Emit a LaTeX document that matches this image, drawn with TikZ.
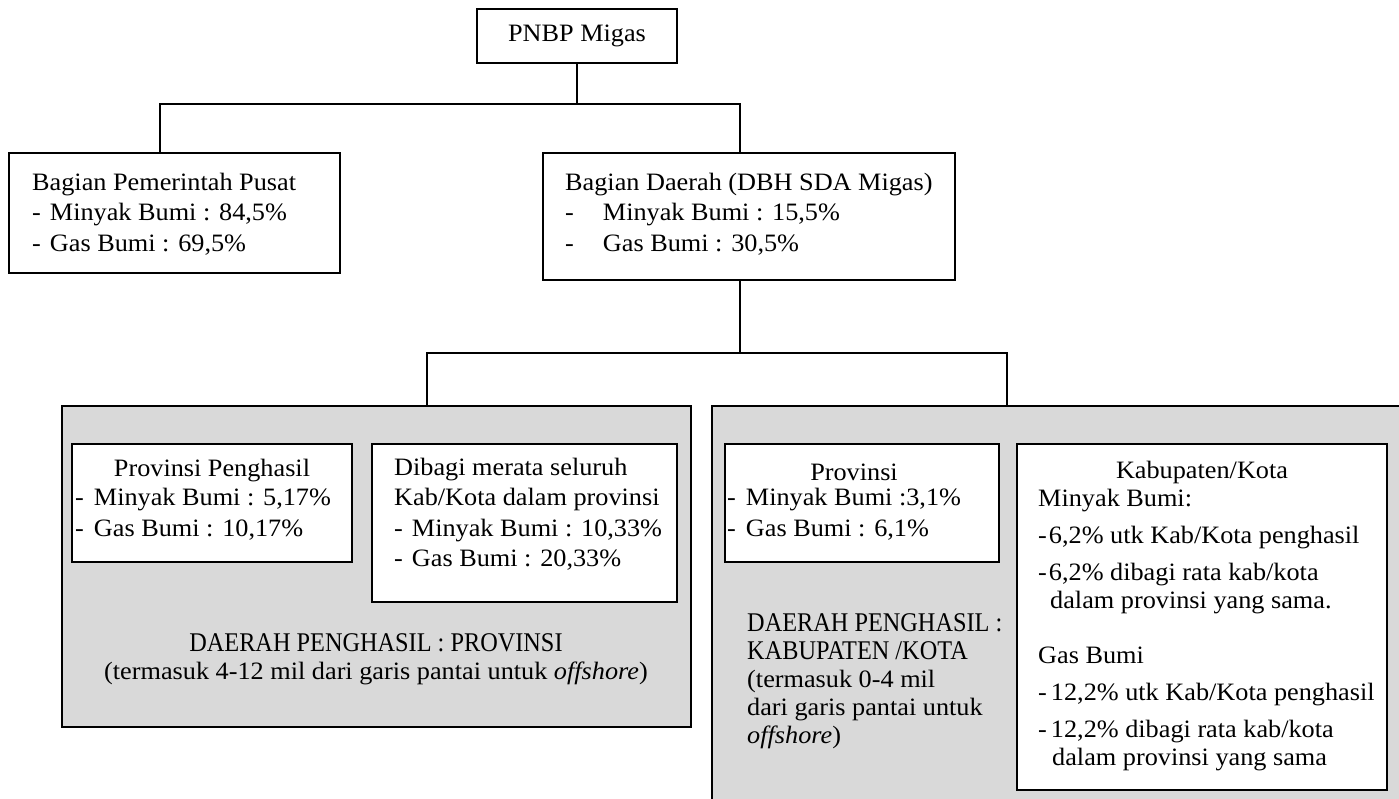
\documentclass[tikz,border=0pt]{standalone}
\usepackage{fontspec}
\setmainfont{Liberation Serif}[FakeStretch=1.05]
\newfontfamily\capsfont{Liberation Serif}[FakeStretch=0.9]
\usepackage{xcolor}
\usepackage{tikz}
\usetikzlibrary{positioning, calc}

\definecolor{regiongray}{RGB}{217,217,217}
\newcommand{\capline}[1]{{\capsfont\fontsize{27}{28}\selectfont #1}}

\tikzset{
  box/.style={rectangle, draw, line width=1.8pt, fill=white, inner sep=0pt, font=\fontsize{25}{30.5}\selectfont},
  region/.style={rectangle, draw, line width=1.8pt, fill=regiongray, inner sep=0pt},
  txt/.style={inner sep=0pt, align=left, font=\fontsize{25}{30.5}\selectfont},
  link/.style={line width=1.8pt},
}

\begin{document}
\begin{tikzpicture}[x=1pt, y=-1pt]
    \path[use as bounding box] (0,0) rectangle (1399,798);
    \clip (0,0) rectangle (1399,798);

    % top level
    \node [box, minimum width=200pt, minimum height=54pt] (pnbp) at (577,36) {PNBP Migas};
    \node [box, minimum width=331pt, minimum height=120pt] (pusat) at (174.5,213) {};
    \node [box, minimum width=412pt, minimum height=127pt] (daerah) at (749,216.5) {};
    \node [txt, anchor=west] (pusattxt) at (32,214) {Bagian Pemerintah Pusat\\-\hspace*{9pt}Minyak Bumi : 84,5\%\\-\hspace*{9pt}Gas Bumi : 69,5\%};
    \node [txt, anchor=west] (daerahtxt) at (565,214) {Bagian Daerah (DBH SDA Migas)\\-\hspace*{29pt}Minyak Bumi : 15,5\%\\-\hspace*{29pt}Gas Bumi : 30,5\%};

    % grey regions
    \node [region, minimum width=629pt, minimum height=321pt] (provreg) at (376.5,566.5) {};
    \node [region, minimum width=703pt, minimum height=409pt] (kabreg) at (1063.5,610.5) {};

    % provinsi penghasil
    \node [box, minimum width=280pt, minimum height=118pt] (prov) at (212,503) {};
    \node [box, minimum width=305pt, minimum height=158pt] (dibagi) at (524.5,523) {};
    \node [txt] (provtitle) at (212,471) {Provinsi Penghasil};
    \node [txt, anchor=west] (provlist) at (75,514) {-\hspace*{10pt}Minyak Bumi : 5,17\%\\-\hspace*{10pt}Gas Bumi : 10,17\%};
    \node [txt, anchor=west] (dibagitxt) at (394,514) {Dibagi merata seluruh\\Kab/Kota dalam provinsi\\-\hspace*{9pt}Minyak Bumi : 10,33\%\\-\hspace*{9pt}Gas Bumi : 20,33\%};
    \node [txt, align=center, font=\fontsize{25}{28}\selectfont] (provregtxt) at (376,659.5) {\capline{DAERAH PENGHASIL : PROVINSI}\\(termasuk 4-12 mil dari garis pantai untuk \textit{offshore})};

    % kabupaten/kota penghasil
    \node [box, minimum width=274pt, minimum height=118pt] (provkab) at (862,503) {};
    \node [box, minimum width=370pt, minimum height=346pt] (kab) at (1202,617) {};
    \node [txt] (provkabtitle) at (854,472) {Provinsi};
    \node [txt, anchor=west] (provkablist) at (727,514) {-\hspace*{10pt}Minyak Bumi :3,1\%\\-\hspace*{10pt}Gas Bumi : 6,1\%};
    \node [txt] (kabtitle) at (1202,472) {Kabupaten/Kota};
    \node [txt, anchor=north west, font=\fontsize{25}{28}\selectfont] (kablist) at (1038,489) {Minyak Bumi:\\[9pt]
        -\hspace*{2pt}6,2\% utk Kab/Kota penghasil\\[9pt]
        -\hspace*{2pt}6,2\% dibagi rata kab/kota\\
        \hspace*{12pt}dalam provinsi yang sama.\\[27pt]
        Gas Bumi\\[9pt]
        -\hspace*{4pt}12,2\% utk Kab/Kota penghasil\\[9pt]
        -\hspace*{4pt}12,2\% dibagi rata kab/kota\\
        \hspace*{14pt}dalam provinsi yang sama};
    \node [txt, anchor=west, font=\fontsize{25}{28}\selectfont] (kabregtxt) at (747,681.5) {\capline{DAERAH PENGHASIL :}\\\capline{KABUPATEN /KOTA}\\(termasuk 0-4 mil\\dari garis pantai untuk\\\textit{offshore})};

    % connectors
    \draw [link] (pnbp.south) -- ++(0,40) -| ([xshift=-14.5pt]pusat.north);
    \draw [link] (pnbp.south) ++(0,40) -| ([xshift=-9pt]daerah.north);
    \draw [link] ([xshift=-9pt]daerah.south) -- ++(0,72) -| ([xshift=50.5pt]provreg.north);
    \draw [link] ([xshift=-9pt]daerah.south) ++(0,72) -| ([xshift=-56.5pt]kabreg.north);
\end{tikzpicture}
\end{document}
